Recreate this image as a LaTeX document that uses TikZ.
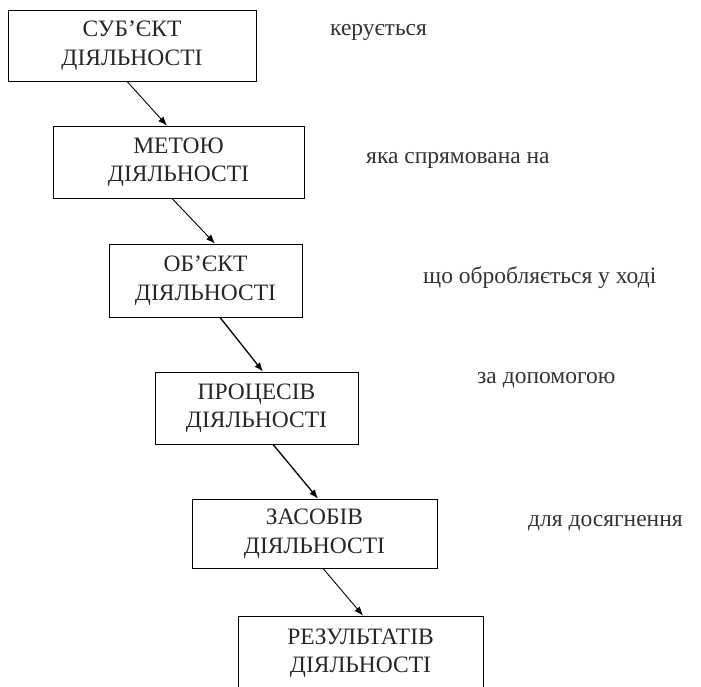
\documentclass[tikz,border=0pt]{standalone}
\usepackage{fontspec}
\setmainfont{Liberation Serif}
\usetikzlibrary{arrows.meta}

\begin{document}
\begin{tikzpicture}[x=1pt, y=-1pt,
                    box/.style={rectangle, draw, line width=0.8pt, align=center, inner sep=0pt,
                                font=\fontsize{23.5}{28.5}\selectfont, text=black!85},
                    note/.style={anchor=west, inner sep=0pt, font=\fontsize{23.5}{28}\selectfont, text=black!80},
                    arr/.style={-{Latex[length=9pt,width=7pt]}, line width=0.9pt}]
                    \useasboundingbox (0,0) rectangle (701,687);
                    \node (subj) [box, minimum width=248pt, minimum height=71pt] at (132,45.5) {СУБ'ЄКТ\\ДІЯЛЬНОСТІ};
                    \node (meta) [box, minimum width=251pt, minimum height=72pt] at (178.5,162) {МЕТОЮ\\ДІЯЛЬНОСТІ};
                    \node (obj) [box, minimum width=193pt, minimum height=73pt] at (205.5,280.5) {ОБ'ЄКТ\\ДІЯЛЬНОСТІ};
                    \node (proc) [box, minimum width=203pt, minimum height=72pt] at (256.5,408) {ПРОЦЕСІВ\\ДІЯЛЬНОСТІ};
                    \node (zasob) [box, minimum width=245pt, minimum height=69pt] at (314.5,533.5) {ЗАСОБІВ\\ДІЯЛЬНОСТІ};
                    \node (rezult) [box, minimum width=245pt, minimum height=74pt] at (360.5,653) {РЕЗУЛЬТАТІВ\\ДІЯЛЬНОСТІ};
                    \node (keruie) [note] at (330,33) {керується};
                    \node (spriam) [note] at (366,160) {яка спрямована на};
                    \node (obrob) [note] at (423,278) {що обробляється у ході};
                    \node (dopom) [note] at (477,380) {за допомогою};
                    \node (dosiah) [note] at (528,523) {для досягнення};
                    \path[arr] ([xshift=-5pt]subj.south) edge ([xshift=-11.5pt]meta.north);
                    \path[arr] ([xshift=-6.5pt]meta.south) edge ([xshift=9.5pt]obj.north);
                    \path[arr, line width=1.3pt] ([xshift=14.5pt]obj.south) edge ([xshift=6.5pt]proc.north);
                    \path[arr, line width=1.3pt] ([xshift=16.5pt]proc.south) edge ([xshift=3.5pt]zasob.north);
                    \path[arr] ([xshift=8.5pt]zasob.south) edge ([xshift=2.5pt]rezult.north);
                \end{tikzpicture}
\end{document}
